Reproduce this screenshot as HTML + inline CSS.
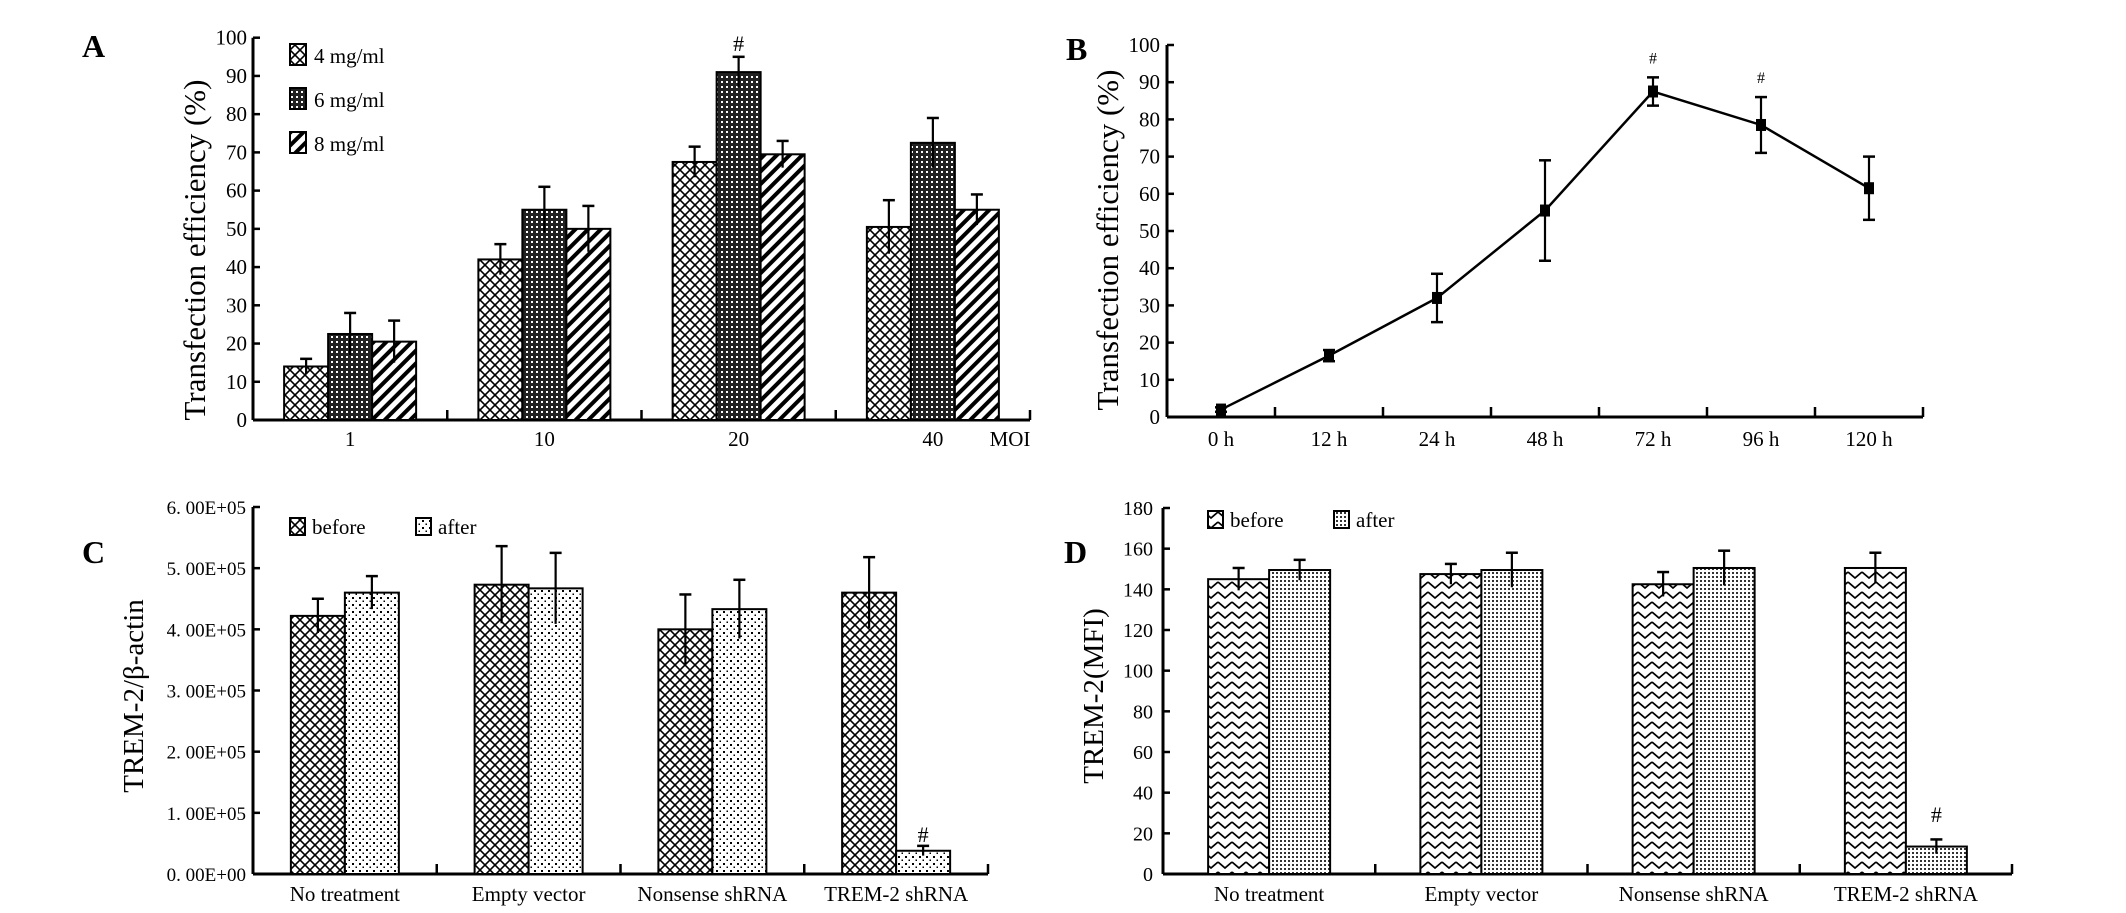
<!DOCTYPE html>
<html><head><meta charset="utf-8">
<style>
html,body{margin:0;padding:0;background:#fff;}
svg{display:block;font-family:"Liberation Serif",serif;}
</style></head>
<body>
<svg id="fig" width="2126" height="913" viewBox="0 0 2126 913" xmlns="http://www.w3.org/2000/svg">
<defs>
<pattern id="pCross" width="10" height="10" patternUnits="userSpaceOnUse"><rect width="10" height="10" fill="#fff"/><path d="M0,0L10,10M10,0L0,10" stroke="#000" stroke-width="1.6"/></pattern>
<pattern id="pDark" width="5" height="5" patternUnits="userSpaceOnUse"><rect width="5" height="5" fill="#222"/><rect x="1" y="1" width="2" height="2" fill="#fff"/></pattern>
<pattern id="pStripe" width="9" height="9" patternUnits="userSpaceOnUse" patternTransform="rotate(45)"><rect width="9" height="9" fill="#fff"/><rect width="4" height="9" fill="#000"/></pattern>
<pattern id="pDots" width="7" height="7" patternUnits="userSpaceOnUse"><rect width="7" height="7" fill="#fff"/><rect x="2" y="2" width="2" height="2" fill="#000"/><rect x="5.5" y="5.5" width="1.5" height="1.5" fill="#000"/></pattern>
<pattern id="pZig" width="14" height="10" patternUnits="userSpaceOnUse"><rect width="14" height="10" fill="#fff"/><path d="M0,2L7,8L14,2" fill="none" stroke="#000" stroke-width="1.8"/></pattern>
<pattern id="pFine" width="4" height="4" patternUnits="userSpaceOnUse"><rect width="4" height="4" fill="#fff"/><rect x="0" y="0" width="2" height="2" fill="#333"/></pattern>
</defs>
<g id="root"></g>
</svg>
<script>
// Panel A data
const aCats = ["1","10","20","40"];
const aSeriesNames = ["4 mg/ml","6 mg/ml","8 mg/ml"];
const a4 = [14, 42, 67.5, 50.5];
const a6 = [22.5, 55, 91, 72.5];
const a8 = [20.5, 50, 69.5, 55];
const a4Err = [2, 4, 4, 7];
const a6Err = [5.5, 6, 4, 6.5];
const a8Err = [5.5, 6, 3.5, 4];
const aTicks = [0,10,20,30,40,50,60,70,80,90,100];
// Panel B data
const bCats = ["0 h","12 h","24 h","48 h","72 h","96 h","120 h"];
const bVals = [2, 16.5, 32, 55.5, 87.5, 78.5, 61.5];
const bErr = [0.6, 1.5, 6.5, 13.5, 3.8, 7.5, 8.5];
const bSig = [false,false,false,false,true,true,false];
const bTicks = [0,10,20,30,40,50,60,70,80,90,100];
// Panel C data (units of 1e5)
const cCats = ["No treatment","Empty vector","Nonsense shRNA","TREM-2 shRNA"];
const cBefore = [4.22, 4.73, 4.00, 4.60];
const cAfter = [4.60, 4.67, 4.33, 0.38];
const cBeforeErr = [0.28, 0.63, 0.57, 0.58];
const cAfterErr = [0.27, 0.58, 0.48, 0.08];
const cTicks = ["0. 00E+00","1. 00E+05","2. 00E+05","3. 00E+05","4. 00E+05","5. 00E+05","6. 00E+05"];
// Panel D data
const dCats = ["No treatment","Empty vector","Nonsense shRNA","TREM-2 shRNA"];
const dBefore = [145, 147.5, 142.5, 150.5];
const dAfter = [149.5, 149.5, 150.5, 13.5];
const dBeforeErr = [5.5, 5, 6, 7.5];
const dAfterErr = [5, 8.5, 8.5, 3.5];
const dTicks = [0,20,40,60,80,100,120,140,160,180];

const NS="http://www.w3.org/2000/svg";
const root=document.getElementById('root');
function mk(tag,attrs,parent,txt){const e=document.createElementNS(NS,tag);for(const k in attrs)e.setAttribute(k,attrs[k]);if(txt!==undefined)e.textContent=txt;(parent||root).appendChild(e);return e;}
function line(x1,y1,x2,y2,w,p){return mk('line',{x1,y1,x2,y2,stroke:'#000','stroke-width':w||2.5},p);}
function errBar(g,x,yTop,yBot,cap){line(x,yTop,x,yBot,2.2,g);line(x-cap,yTop,x+cap,yTop,2.5,g);}

function axes(g,x0,x1,y0,yTopPx,nCats,ticks,yFn,labelRight,fs){
  line(x0,y0,x1,y0,3,g);
  line(x0,y0,x0,yTopPx,3,g);
  const cw=(x1-x0)/nCats;
  for(let i=1;i<=nCats;i++){line(x0+cw*i,y0,x0+cw*i,y0-10,2.5,g);}
  ticks.forEach((t,i)=>{const y=yFn(i);line(x0,y,x0+7,y,2.5,g);
    const tl=mk('text',{x:labelRight,y:y+7,'text-anchor':'end','font-size':fs||21},g,t);
    
    
  });
}

// ---------- Panel A ----------
(function(){
  const g=mk('g',{});  
  const x0=253,x1=1030,y0=420,yTop=37.7;
  const yS=v=>y0-(v/100)*(y0-yTop);
  const cw=(x1-x0)/aCats.length, bw=44;
  axes(g,x0,x1,y0,yTop,aCats.length,aTicks,i=>yS(aTicks[i]),247,21);
  const series=[[a4,a4Err,'url(#pCross)'],[a6,a6Err,'url(#pDark)'],[a8,a8Err,'url(#pStripe)']];
  aCats.forEach((c,i)=>{
    const cx=x0+cw*(i+0.5);
    series.forEach((s,j)=>{
      const bx=cx-1.5*bw+j*bw, v=s[0][i], e=s[1][i];
      const r=mk('rect',{x:bx,y:yS(v),width:bw,height:y0-yS(v),fill:s[2],stroke:'#000','stroke-width':2},g);
       
      errBar(g,bx+bw/2,yS(v+e),yS(v-e),6);
    });
    const t=mk('text',{x:cx,y:446,'text-anchor':'middle','font-size':21},g,c);
     
  });
  const sig=mk('text',{x:x0+cw*2.5,y:yS(95)-6,'text-anchor':'middle','font-size':22},g,'#');
   
  const moi=mk('text',{x:1010,y:446,'text-anchor':'middle','font-size':21},g,'MOI');
   
  const fills=['url(#pCross)','url(#pDark)','url(#pStripe)'];
  aSeriesNames.forEach((n,j)=>{
    const y=44+j*44;
    const b=mk('rect',{x:290,y:y,width:16,height:21,fill:fills[j],stroke:'#000','stroke-width':2},g);
     
    const t=mk('text',{x:314,y:y+19,'font-size':21},g,n);
     
  });
  const lab=mk('text',{x:82,y:57,'font-size':32,'font-weight':'bold'},g,'A');
   
  const yt=mk('text',{x:0,y:0,'font-size':31,'text-anchor':'middle',transform:'translate(205,250) rotate(-90)'},g,'Transfection efficiency (%)');
   
})();

// ---------- Panel B ----------
(function(){
  const g=mk('g',{});  
  const x0=1167,x1=1923,y0=417,yTop=45;
  const yS=v=>y0-(v/100)*(y0-yTop);
  const cw=(x1-x0)/bCats.length;
  axes(g,x0,x1,y0,yTop,bCats.length,bTicks,i=>yS(bTicks[i]),1160,21);
  const pts=bVals.map((v,i)=>[x0+cw*(i+0.5),yS(v)]);
  const pl=mk('polyline',{points:pts.map(p=>p.join(',')).join(' '),fill:'none',stroke:'#000','stroke-width':2.5},g);
   
  bVals.forEach((v,i)=>{
    const cx=x0+cw*(i+0.5);
    errBar(g,cx,yS(v+bErr[i]),yS(v-bErr[i]),6);
    line(cx-6,yS(v-bErr[i]),cx+6,yS(v-bErr[i]),2.5,g);
    const m=mk('rect',{x:cx-5,y:yS(v)-6,width:10,height:12,fill:'#000'},g);
     
    if(bSig[i]){const s=mk('text',{x:cx,y:yS(v+bErr[i])-14,'text-anchor':'middle','font-size':16},g,'#');
       }
    const t=mk('text',{x:cx,y:446,'text-anchor':'middle','font-size':21},g,bCats[i]);
     
  });
  const lab=mk('text',{x:1066,y:60,'font-size':32,'font-weight':'bold'},g,'B');
   
  const yt=mk('text',{x:0,y:0,'font-size':31,'text-anchor':'middle',transform:'translate(1118,240) rotate(-90)'},g,'Transfection efficiency (%)');
   
})();

// ---------- Grouped two-series panels C & D ----------
function twoBar(cfg){
  const g=mk('g',{});  
  const {x0,x1,y0,yTop,max,bw}=cfg;
  const yS=v=>y0-(v/max)*(y0-yTop);
  const cw=(x1-x0)/cfg.cats.length;
  axes(g,x0,x1,y0,yTop,cfg.cats.length,cfg.ticks,i=>y0-i*(y0-yTop)/(cfg.ticks.length-1),cfg.labelRight,cfg.tfs);
  cfg.cats.forEach((c,i)=>{
    const cx=x0+cw*(i+0.5);
    [[cfg.b,cfg.be,cfg.f1],[cfg.a,cfg.ae,cfg.f2]].forEach((s,j)=>{
      const bx=cx-bw+j*bw, v=s[0][i], e=s[1][i];
      const r=mk('rect',{x:bx,y:yS(v),width:bw,height:y0-yS(v),fill:s[2],stroke:'#000','stroke-width':2},g);
       
      errBar(g,bx+bw/2,yS(v+e),yS(v-e),6);
    });
    const t=mk('text',{x:cx,y:cfg.labY,'text-anchor':'middle','font-size':21},g,c);
     
  });
  const last=cfg.cats.length-1, sx=x0+cw*(last+0.5)+bw/2;
  const s=mk('text',{x:sx,y:cfg.sigY,'text-anchor':'middle','font-size':22},g,'#');
   
  [[cfg.lg[0],cfg.f1,'before'],[cfg.lg[1],cfg.f2,'after']].forEach(([lx,f,n])=>{
    const b=mk('rect',{x:lx,y:cfg.lgY,width:15,height:17,fill:f,stroke:'#000','stroke-width':2},g);
     
    const t=mk('text',{x:lx+22,y:cfg.lgY+16,'font-size':21},g,n);
     
  });
  const lab=mk('text',{x:cfg.labX,y:563,'font-size':32,'font-weight':'bold'},g,cfg.letter);
   
  const yt=mk('text',{x:0,y:0,'font-size':29,'text-anchor':'middle',transform:'translate('+cfg.titleX+',696) rotate(-90)'},g,cfg.title);
   
}
twoBar({name:'panel-c',letter:'C',labX:82,x0:253,x1:988,y0:874,yTop:507,max:6,bw:54,cats:cCats,b:cBefore,a:cAfter,be:cBeforeErr,ae:cAfterErr,
  f1:'url(#pCross)',f2:'url(#pDots)',ticks:cTicks,labelRight:246,tfs:19,labY:901,sigY:842,lg:[290,416],lgY:518,titleX:143,title:'TREM-2/β-actin'});
twoBar({name:'panel-d',letter:'D',labX:1064,x0:1163,x1:2012,y0:874,yTop:508,max:180,bw:61,cats:dCats,b:dBefore,a:dAfter,be:dBeforeErr,ae:dAfterErr,
  f1:'url(#pZig)',f2:'url(#pFine)',ticks:dTicks,labelRight:1153,tfs:20,labY:901,sigY:822,lg:[1208,1334],lgY:511,titleX:1103,title:'TREM-2(MFI)'});
</script>
</body></html>
